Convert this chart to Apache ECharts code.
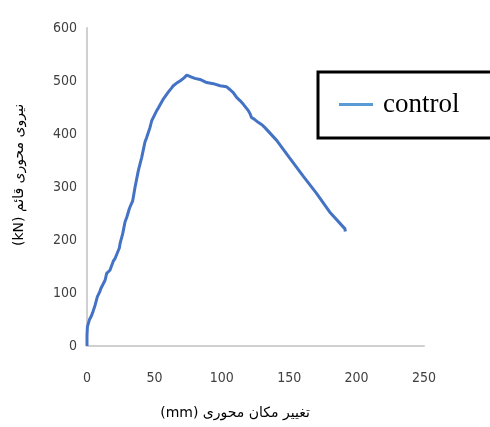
<!DOCTYPE html>
<html>
  <head>
    <meta charset="UTF-8">
    <title>control</title>
    <script src="https://cdn.jsdelivr.net/npm/echarts@6/dist/echarts.min.js"></script>
    <style>
      html, body { margin: 0; padding: 0; background: #fff; }
      #chart { width: 490px; height: 427px; }
    </style>
  </head>
  <body>
    <div id="chart"></div>
    <script>
// displacement (mm) and axial load (kN)
const displacement = [0, 0, 0.3, 1.7, 3.5, 4.2, 6, 7.7, 9.6, 10.2, 13.4, 14.6, 17, 19.5, 20.8, 24,
  24.5, 26.5, 28.2, 29.5, 31.4, 32.5, 33.9, 35.6, 38, 39.3, 40.6, 43, 44.2, 46.7, 48, 51.7, 52.9,
  56.6, 60, 62.8, 64, 67, 69, 72, 74, 78, 80, 83.8, 88.8, 93.7, 98.7, 103.6, 106, 108.5, 111,
  113.5, 116, 119.7, 121, 122, 124, 127, 130, 132, 140.7, 150, 160.5, 170, 180, 191.4, 191.6];
const load = [0, 20, 36, 49, 58, 63, 77, 93, 103, 108, 124, 137, 143, 160, 165, 185,
  193, 212, 234, 243, 259, 266, 274, 299, 330, 343, 356, 385, 393, 412, 425, 444, 449,
  466, 478, 487, 491, 497, 500, 506, 511, 507, 505, 503, 497, 495, 491, 489, 484, 478, 469,
  463, 456, 444, 438, 431, 428, 422, 417, 412, 388, 356, 320, 289, 253, 221, 216];
const seriesName = 'control';
const xTicks = [0, 50, 100, 150, 200, 250];
const yTicks = [0, 100, 200, 300, 400, 500, 600];

const chart = echarts.init(document.getElementById('chart'), null, {renderer: 'canvas'});

const axisText = {color: '#404040', fontSize: 14, fontFamily: 'Liberation Sans Narrow, DejaVu Sans Condensed, sans-serif'};

chart.setOption({
  animation: false,
  backgroundColor: '#fff',
  grid: {left: 87, right: 66, top: 28, bottom: 81},
  xAxis: {
    type: 'value',
    min: xTicks[0],
    max: xTicks[xTicks.length - 1],
    interval: xTicks[1] - xTicks[0],
    axisLine: {show: true, lineStyle: {color: '#d0d0d0', width: 2}},
    axisTick: {show: false},
    splitLine: {show: false},
    axisLabel: Object.assign({margin: 25}, axisText)
  },
  yAxis: {
    type: 'value',
    min: yTicks[0],
    max: yTicks[yTicks.length - 1],
    interval: yTicks[1] - yTicks[0],
    axisLine: {show: true, lineStyle: {color: '#d0d0d0', width: 2}},
    axisTick: {show: false},
    splitLine: {show: false},
    axisLabel: Object.assign({margin: 10}, axisText)
  },
  legend: {
    left: 318,
    top: 72,
    padding: [19, 60, 20, 21],
    borderColor: '#000',
    borderWidth: 3,
    itemWidth: 34,
    itemHeight: 3,
    icon: 'rect',
    textStyle: {color: '#000', fontSize: 27, fontFamily: 'Liberation Serif, serif', padding: [0, 0, 0, 5]},
    data: [{name: seriesName, itemStyle: {color: '#5b9bd5'}}]
  },
  graphic: [
    {
      type: 'text',
      x: 235, y: 413,
      style: {
        text: '(mm) تغییر مکان محوری',
        fill: '#000', fontSize: 14, fontFamily: 'DejaVu Sans, sans-serif',
        align: 'center', verticalAlign: 'middle'
      }
    },
    {
      type: 'text',
      x: 19, y: 175,
      rotation: Math.PI / 2,
      style: {
        text: '(kN) نیروی محوری قائم',
        fill: '#000', fontSize: 14, fontFamily: 'DejaVu Sans, sans-serif',
        align: 'center', verticalAlign: 'middle'
      }
    }
  ],
  series: [{
    name: seriesName,
    type: 'line',
    data: displacement.map((d, i) => [d, load[i]]),
    showSymbol: false,
    lineStyle: {color: '#4472c4', width: 3},
    itemStyle: {color: '#4472c4'}
  }]
});
    </script>
  </body>
</html>
